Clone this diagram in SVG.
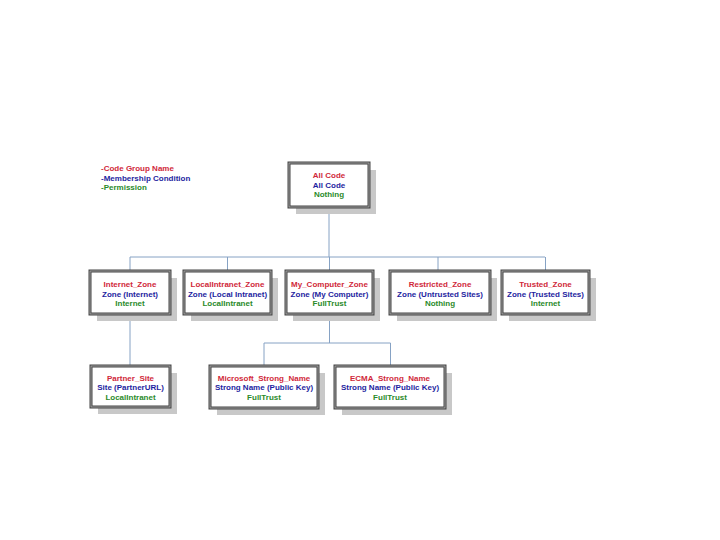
<svg xmlns="http://www.w3.org/2000/svg" width="720" height="540" viewBox="0 0 720 540">
<style>
text{font-family:"Liberation Sans",Arial,sans-serif;font-size:8px;font-weight:bold;text-anchor:middle}
.r{fill:#d0283a}.b{fill:#1e1ea0}.g{fill:#2a8a2a}
.sh{fill:#c8c8c8}
.bx{fill:#fff;stroke:#454545;stroke-width:3}
.in{fill:none;stroke:#b4b4b4;stroke-width:0.8}
.c{fill:none;stroke:#86a2c4;stroke-width:1}
.lg{text-anchor:start}
</style>
<rect width="720" height="540" fill="#fff"/>
<g id="legend">
<text class="r lg" x="101" y="171">-Code Group Name</text>
<text class="b lg" x="101" y="180.5">-Membership Condition</text>
<text class="g lg" x="101" y="190">-Permission</text>
</g>
<g id="connectors">
<path class="c" d="M329 207V257M130 257H545M130 257V271M227.5 257V271M329.5 257V271M438 257V271M545.5 257V271"/>
<path class="c" d="M130 314V366M329.5 314V343M264 343H390.5M264 343V366M390.5 343V366"/>
</g>
<g id="all_code">
<rect class="sh" x="296" y="170" width="80" height="44"/>
<rect class="bx" x="289" y="163" width="80" height="44"/><rect class="in" x="289" y="163" width="80" height="44"/>
<text class="r" x="329" y="178">All Code</text><text class="b" x="329" y="187.5">All Code</text><text class="g" x="329" y="197">Nothing</text>
</g>
<g id="internet_zone">
<rect class="sh" x="97" y="278" width="80" height="43"/>
<rect class="bx" x="90" y="271" width="80" height="43"/><rect class="in" x="90" y="271" width="80" height="43"/>
<text class="r" x="130" y="287">Internet_Zone</text><text class="b" x="130" y="296.5">Zone (Internet)</text><text class="g" x="130" y="306">Internet</text>
</g>
<g id="localintranet_zone">
<rect class="sh" x="191" y="278" width="87" height="43"/>
<rect class="bx" x="184" y="271" width="87" height="43"/><rect class="in" x="184" y="271" width="87" height="43"/>
<text class="r" x="227.5" y="287">LocalIntranet_Zone</text><text class="b" x="227.5" y="296.5">Zone (Local Intranet)</text><text class="g" x="227.5" y="306">LocalIntranet</text>
</g>
<g id="my_computer_zone">
<rect class="sh" x="293" y="278" width="87" height="43"/>
<rect class="bx" x="286" y="271" width="87" height="43"/><rect class="in" x="286" y="271" width="87" height="43"/>
<text class="r" x="329.5" y="287">My_Computer_Zone</text><text class="b" x="329.5" y="296.5">Zone (My Computer)</text><text class="g" x="329.5" y="306">FullTrust</text>
</g>
<g id="restricted_zone">
<rect class="sh" x="397" y="278" width="100" height="43"/>
<rect class="bx" x="390" y="271" width="100" height="43"/><rect class="in" x="390" y="271" width="100" height="43"/>
<text class="r" x="440" y="287">Restricted_Zone</text><text class="b" x="440" y="296.5">Zone (Untrusted Sites)</text><text class="g" x="440" y="306">Nothing</text>
</g>
<g id="trusted_zone">
<rect class="sh" x="509" y="278" width="87" height="43"/>
<rect class="bx" x="502" y="271" width="87" height="43"/><rect class="in" x="502" y="271" width="87" height="43"/>
<text class="r" x="545.5" y="287">Trusted_Zone</text><text class="b" x="545.5" y="296.5">Zone (Trusted Sites)</text><text class="g" x="545.5" y="306">Internet</text>
</g>
<g id="partner_site">
<rect class="sh" x="98" y="373" width="79" height="41"/>
<rect class="bx" x="91" y="366" width="79" height="41"/><rect class="in" x="91" y="366" width="79" height="41"/>
<text class="r" x="130.5" y="380.5">Partner_Site</text><text class="b" x="130.5" y="390">Site (PartnerURL)</text><text class="g" x="130.5" y="399.5">LocalIntranet</text>
</g>
<g id="microsoft_strong_name">
<rect class="sh" x="217" y="373" width="108" height="42"/>
<rect class="bx" x="210" y="366" width="108" height="42"/><rect class="in" x="210" y="366" width="108" height="42"/>
<text class="r" x="264" y="380.5">Microsoft_Strong_Name</text><text class="b" x="264" y="390">Strong Name (Public Key)</text><text class="g" x="264" y="399.5">FullTrust</text>
</g>
<g id="ecma_strong_name">
<rect class="sh" x="342" y="373" width="110" height="42"/>
<rect class="bx" x="335" y="366" width="110" height="42"/><rect class="in" x="335" y="366" width="110" height="42"/>
<text class="r" x="390" y="380.5">ECMA_Strong_Name</text><text class="b" x="390" y="390">Strong Name (Public Key)</text><text class="g" x="390" y="399.5">FullTrust</text>
</g>
</svg>
